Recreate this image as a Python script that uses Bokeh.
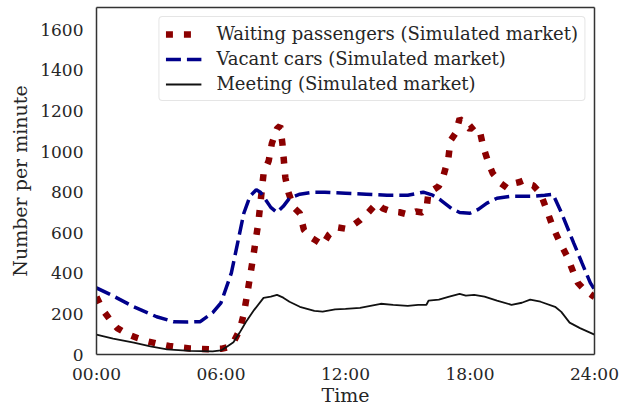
from bokeh.plotting import figure
from bokeh.models import FixedTicker, Range1d, Legend, LegendItem, LinearAxis
from bokeh.embed import file_html
from bokeh.resources import INLINE

# ---- data (hours of day, numbers per minute) ----
wait_t = [0, 0.3, 0.7, 1.0, 1.5, 2.0, 2.5, 3.0, 3.5, 4.0, 4.5, 5.0, 5.5, 6.0, 6.3, 6.6, 6.9,
          7.1, 7.3, 7.55, 7.8, 8.05, 8.3, 8.45, 8.7, 8.85, 8.96, 9.1, 9.25, 9.5, 9.8, 10.0,
          10.3, 10.6, 10.9, 11.2, 11.6, 12.0, 12.4, 12.7, 13.1, 13.5, 13.8, 14.2, 14.6, 15.0,
          15.4, 15.7, 15.9, 16.0, 16.2, 16.5, 16.7, 16.96, 17.06, 17.3, 17.5, 17.8, 18.0,
          18.2, 18.5, 18.65, 18.9, 19.1, 19.5, 19.8, 20.1, 20.4, 20.6, 20.8, 21.05, 21.4,
          21.7, 22.0, 22.3, 22.7, 23.0, 23.2, 23.5, 23.9, 24.0]
wait_v = [284, 220, 165, 130, 100, 80, 64, 52, 42, 35, 30, 28, 26, 28, 35, 60, 120,
          200, 320, 480, 650, 890, 955, 1040, 1113, 1127, 1039, 872, 799, 725, 696, 613,
          580, 560, 540, 590, 627, 620, 640, 662, 700, 745, 720, 705, 701, 690,
          705, 700, 715, 800, 809, 830, 872, 970, 1054, 1090, 1162, 1130, 1110,
          1127, 1088, 1020, 941, 892, 843, 820, 843, 850, 858, 840, 833, 794,
          711, 627, 560, 480, 400, 353, 320, 290, 284]

vac_t = [0, 0.7, 1.8, 2.9, 3.7, 4.4, 5.0, 5.6, 6.0, 6.5, 6.8, 7.1, 7.4, 7.7, 7.9, 8.1, 8.4,
         8.7, 9.0, 9.3, 9.8, 10.5, 11.0, 12.0, 13.0, 14.0, 15.0, 15.75, 16.2, 16.6, 17.1,
         17.5, 18.0, 18.4, 18.8, 19.3, 20.0, 21.0, 21.6, 22.0, 22.4, 23.0, 23.4, 23.8, 24.0]
vac_v = [328, 294, 235, 186, 162, 160, 162, 206, 255, 402, 549, 696, 780, 812, 800, 770, 725,
         700, 730, 770, 790, 800, 800, 795, 790, 785, 785, 800, 785, 760, 720,
         700, 696, 715, 745, 770, 780, 780, 785, 790, 700, 549, 450, 353, 320]

meet_t = [0, 0.8, 1.8, 2.6, 3.4, 4.5, 5.6, 6.0, 6.3, 6.6, 6.9, 7.2, 7.6, 8.05, 8.4, 8.7,
          9.0, 9.3, 9.8, 10.5, 10.9, 11.5, 12.0, 12.7, 13.2, 13.7, 14.3, 15.0, 15.5, 15.9,
          16.0, 16.5, 17.0, 17.5, 17.8, 18.2, 18.7, 19.3, 20.0, 20.5, 20.9, 21.4, 22.1,
          22.4, 22.8, 23.3, 24.0]
meet_v = [98, 78, 59, 40, 25, 18, 15, 20, 39, 60, 108, 160, 220, 279, 285, 294,
          280, 260, 235, 215, 211, 222, 225, 230, 240, 250, 245, 240, 245, 245,
          265, 270, 285, 299, 290, 294, 285, 265, 245, 255, 270, 260, 235,
          210, 157, 130, 98]

x_ticks = [0, 6, 12, 18, 24]
x_tick_labels = ["00:00", "06:00", "12:00", "18:00", "24:00"]
y_ticks = [0, 200, 400, 600, 800, 1000, 1200, 1400, 1600]
series_labels = ["Waiting passengers (Simulated market)",
                 "Vacant cars (Simulated market)",
                 "Meeting (Simulated market)"]
x_title = "Time"
y_title = "Number per minute"

FONT = "DejaVu Serif"
TXT = "#262626"
EDGE = "#333333"

p = figure(width=620, height=408, output_backend="svg", toolbar_location=None,
           x_range=Range1d(0, 24), y_range=Range1d(0, 1710),
           min_border_left=96, min_border_right=26, min_border_top=7, min_border_bottom=54)
p.background_fill_color = "white"
p.border_fill_color = "white"
p.outline_line_color = None
p.xgrid.visible = False
p.ygrid.visible = False

r1 = p.line(wait_t, wait_v, line_color="#8b0000", line_width=6.5, line_dash="7 11")
r2 = p.line(vac_t, vac_v, line_color="#00008b", line_width=3.5, line_dash="15 6")
r3 = p.line(meet_t, meet_v, line_color="#111111", line_width=1.8)

p.xaxis.ticker = FixedTicker(ticks=x_ticks)
p.xaxis.major_label_overrides = {t: s for t, s in zip(x_ticks, x_tick_labels)}
p.yaxis.ticker = FixedTicker(ticks=y_ticks)
p.xaxis.axis_label = x_title
p.yaxis.axis_label = y_title
for ax in (p.xaxis, p.yaxis):
    ax.axis_line_color = EDGE
    ax.axis_line_width = 1.5
    ax.major_tick_line_color = None
    ax.minor_tick_line_color = None
    ax.major_tick_out = 0
    ax.major_tick_in = 0
    ax.major_label_text_font = FONT
    ax.major_label_text_font_size = "17px"
    ax.major_label_text_color = TXT
    ax.axis_label_text_font = FONT
    ax.axis_label_text_font_size = "19px"
    ax.axis_label_text_font_style = "normal"
    ax.axis_label_text_color = TXT
p.xaxis.major_label_standoff = 9
p.xaxis.axis_label_standoff = -3
p.yaxis.major_label_standoff = 13
p.yaxis.axis_label_standoff = 6

# top and right edges of the frame
for side in ("right", "above"):
    ax = LinearAxis(ticker=FixedTicker(ticks=[]), major_label_text_font_size="0px",
                    axis_line_color=EDGE, axis_line_width=1.5,
                    major_tick_line_color=None, minor_tick_line_color=None,
                    major_tick_out=0, major_tick_in=0, major_label_standoff=0)
    p.add_layout(ax, side)

legend = Legend(items=[LegendItem(label=series_labels[0], renderers=[r1]),
                       LegendItem(label=series_labels[1], renderers=[r2]),
                       LegendItem(label=series_labels[2], renderers=[r3])],
                location="top_right")
legend.label_text_font = FONT
legend.label_text_font_size = "18px"
legend.label_text_color = TXT
legend.glyph_width = 36
legend.glyph_height = 20
legend.label_height = 20
legend.label_standoff = 15
legend.spacing = 4
legend.padding = 6
legend.margin = 9
legend.border_line_color = "#cccccc"
legend.border_line_width = 1
legend.background_fill_alpha = 0.85
try:
    legend.border_radius = 4
except Exception:
    pass
p.add_layout(legend)

open("out.html", "w").write(file_html(p, INLINE))
